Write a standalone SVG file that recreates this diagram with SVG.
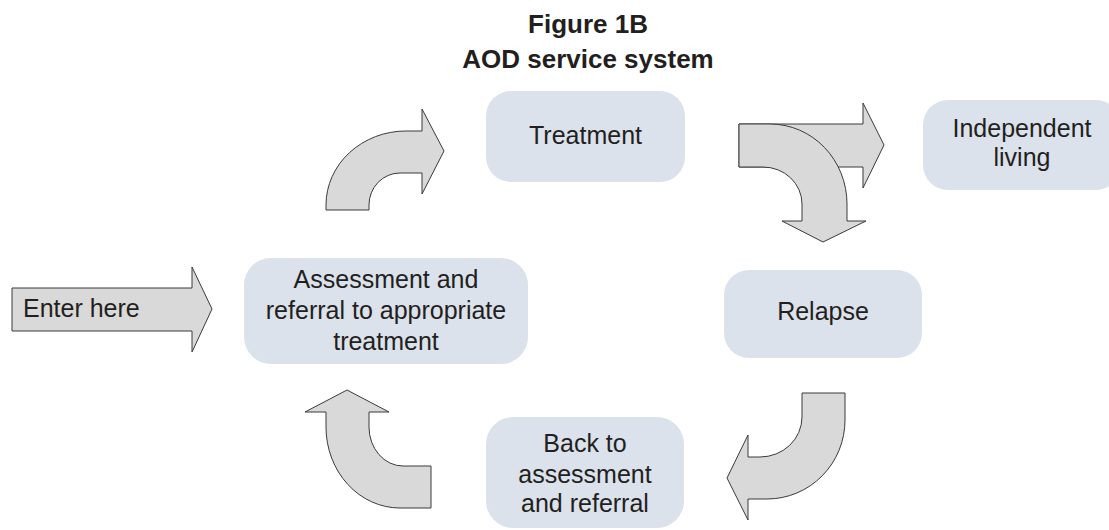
<svg xmlns="http://www.w3.org/2000/svg" width="1109" height="530" viewBox="0 0 1109 530">
<style>
.box{fill:#dbe2eb;stroke:none}
.arr{fill:#d9d9d9;stroke:#3a3a3a;stroke-width:1;stroke-linejoin:miter}
.t{font-family:"Liberation Sans",Arial,sans-serif;font-size:25px;fill:#231f20;text-anchor:middle}
.title{font-family:"Liberation Sans",Arial,sans-serif;font-size:26px;font-weight:bold;fill:#231f20;text-anchor:middle}
</style>
<rect width="1109" height="530" fill="#ffffff"/>
<g id="title">
<text class="title" x="588" y="33">Figure 1B</text>
<text class="title" x="588" y="68">AOD service system</text>
</g>
<g id="connectors">
<path class="arr" d="M326,210 L326,205 A80 74 0 0 1 406,131 L422,131 L422,109 L444,151 L422,194 L422,173 L400,173 A31 32 0 0 0 369,205 L369,210 Z"/>
<path class="arr" d="M739,124 L863,124 L863,103 L884,145 L863,188 L863,167 L739,167 Z"/>
<path class="arr" d="M739,124 L770,124 A77 80 0 0 1 847,204 L847,221 L866,221 L823,242 L782,221 L802,221 L802,204 A39 37 0 0 0 763,167 L739,167 Z"/>
<path class="arr" d="M802,393 L845,393 L845,420 A78 79 0 0 1 767,499 L748,499 L748,520 L727,478 L748,435 L748,457 L760,457 A42 40 0 0 0 802,417 Z"/>
<path class="arr" d="M431,466 L403,466 A34 39 0 0 1 369,427 L369,412 L389,412 L347,390 L305,412 L326,412 L326,427 A74 81 0 0 0 400,508 L431,508 Z"/>
</g>
<g id="enter">
<path class="arr" d="M12,288 L192,288 L192,267 L212,309 L192,352 L192,331 L12,331 Z"/>
<text class="t" x="23" y="317" style="text-anchor:start">Enter here</text>
</g>
<g id="assessment">
<rect class="box" x="244" y="258" width="284" height="106" rx="27"/>
<text class="t" x="386" y="288">Assessment and</text>
<text class="t" x="386" y="319">referral to appropriate</text>
<text class="t" x="386" y="350">treatment</text>
</g>
<g id="treatment">
<rect class="box" x="486" y="91" width="199" height="91" rx="25"/>
<text class="t" x="585.5" y="144">Treatment</text>
</g>
<g id="independent">
<rect class="box" x="923" y="100" width="198" height="90" rx="25"/>
<text class="t" x="1022" y="137">Independent</text>
<text class="t" x="1022" y="166">living</text>
</g>
<g id="relapse">
<rect class="box" x="724" y="270" width="198" height="88" rx="25"/>
<text class="t" x="823" y="320">Relapse</text>
</g>
<g id="back">
<rect class="box" x="486" y="417" width="198" height="111" rx="27"/>
<text class="t" x="585" y="452">Back to</text>
<text class="t" x="585" y="483">assessment</text>
<text class="t" x="585" y="512">and referral</text>
</g>
</svg>
